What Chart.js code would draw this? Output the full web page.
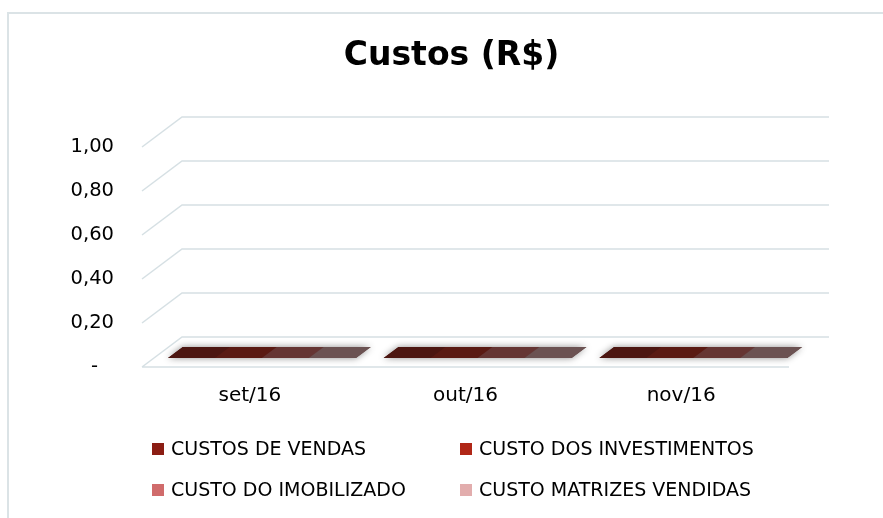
<!DOCTYPE html>
<html>
<head>
<meta charset="utf-8">
<script src="https://cdn.jsdelivr.net/npm/chart.js@4/dist/chart.umd.min.js"></script>
<style>
  html, body { margin: 0; padding: 0; background: #fff; }
</style>
</head>
<body>
<canvas id="custosChart" width="883" height="518"></canvas>
<script>
// dados
const meses = ["set/16", "out/16", "nov/16"];
const nomesSeries = ["CUSTOS DE VENDAS", "CUSTO DOS INVESTIMENTOS", "CUSTO DO IMOBILIZADO", "CUSTO MATRIZES VENDIDAS"];
const custosVendas = [0, 0, 0];
const custoInvestimentos = [0, 0, 0];
const custoImobilizado = [0, 0, 0];
const custoMatrizes = [0, 0, 0];
const yMin = 0;
const yMax = 1;
const yPasso = 0.2;

const colors = {
  grid: "#d6e0e4",
  frame: "#dbe3e6",
  text: "#000000",
  legenda: ["#8b1d13", "#b02717", "#d06b6b", "#e2adad"],
  topo: ["#4c1611", "#5a1a13", "#653533", "#6b5252"],
};

const depth = { dx: 40, dy: -30, f1: 0.3, f2: 0.67 };
const fonte = "'DejaVu Sans', sans-serif";

const serieValores = [custosVendas, custoInvestimentos, custoImobilizado, custoMatrizes];

// grade 3D, piso e barras
const grade3d = {
  id: "grade3d",
  beforeDraw(chart) {
    const ctx = chart.ctx;
    ctx.save();
    ctx.fillStyle = "#fff";
    ctx.fillRect(0, 0, chart.width, chart.height);
    ctx.strokeStyle = colors.frame;
    ctx.lineWidth = 2;
    ctx.beginPath();
    ctx.moveTo(8, chart.height);
    ctx.lineTo(8, 13);
    ctx.lineTo(chart.width, 13);
    ctx.stroke();
    ctx.restore();
  },
  beforeDatasetsDraw(chart) {
    const { ctx, chartArea: a, scales: { y } } = chart;
    ctx.save();
    ctx.strokeStyle = colors.grid;
    ctx.lineWidth = 1.5;
    y.ticks.forEach(t => {
      const py = y.getPixelForValue(t.value);
      ctx.beginPath();
      ctx.moveTo(a.left, py);
      ctx.lineTo(a.left + depth.dx, py + depth.dy);
      ctx.lineTo(a.right + depth.dx, py + depth.dy);
      if (t.value === 0) {
        ctx.moveTo(a.left, py);
        ctx.lineTo(a.right, py);
      }
      ctx.stroke();
    });
    ctx.restore();
  },
  afterDatasetsDraw(chart) {
    const { ctx, scales: { y } } = chart;
    const y0 = y.getPixelForValue(0);
    const n = chart.data.datasets.length;
    const { dx, dy, f1, f2 } = depth;

    meses.forEach((m, i) => {
      const primeiro = chart.getDatasetMeta(0).data[i].getProps(["x", "width"], true);
      const ultimo = chart.getDatasetMeta(n - 1).data[i].getProps(["x", "width"], true);
      const L = primeiro.x - primeiro.width / 2;
      const R = ultimo.x + ultimo.width / 2;

      // sombra do grupo
      ctx.save();
      ctx.shadowColor = "rgba(0,0,0,0.45)";
      ctx.shadowBlur = 7;
      ctx.fillStyle = colors.topo[0];
      ctx.beginPath();
      ctx.moveTo(L + f1 * dx, y0 + f1 * dy);
      ctx.lineTo(R + f1 * dx, y0 + f1 * dy);
      ctx.lineTo(R + f2 * dx, y0 + f2 * dy);
      ctx.lineTo(L + f2 * dx, y0 + f2 * dy);
      ctx.closePath();
      ctx.fill();
      ctx.restore();

      chart.data.datasets.forEach((ds, d) => {
        const el = chart.getDatasetMeta(d).data[i].getProps(["x", "width"], true);
        const l = el.x - el.width / 2;
        const r = el.x + el.width / 2;
        const top = y.getPixelForValue(ds.data[i]);
        ctx.save();
        if (top < y0) {
          ctx.fillStyle = colors.legenda[d];
          ctx.fillRect(l + f1 * dx, top + f1 * dy, r - l, y0 - top);
        }
        ctx.fillStyle = colors.topo[d];
        ctx.beginPath();
        ctx.moveTo(l + f1 * dx, top + f1 * dy);
        ctx.lineTo(r + f1 * dx + 0.5, top + f1 * dy);
        ctx.lineTo(r + f2 * dx + 0.5, top + f2 * dy);
        ctx.lineTo(l + f2 * dx, top + f2 * dy);
        ctx.closePath();
        ctx.fill();
        ctx.restore();
      });
    });
  },
  afterDraw(chart) {
    // legenda em duas colunas
    const ctx = chart.ctx;
    const colX = [152, 460];
    const rowY = [449, 490];
    ctx.save();
    ctx.font = "19px " + fonte;
    ctx.textBaseline = "middle";
    ctx.textAlign = "left";
    chart.data.datasets.forEach((ds, d) => {
      const x = colX[d % 2];
      const yy = rowY[Math.floor(d / 2)];
      ctx.fillStyle = colors.legenda[d];
      ctx.fillRect(x, yy - 6, 12, 12);
      ctx.fillStyle = colors.text;
      ctx.fillText(ds.label, x + 19, yy + 1);
    });
    ctx.restore();
  }
};

const ctx = document.getElementById("custosChart").getContext("2d");
new Chart(ctx, {
  type: "bar",
  data: {
    labels: meses,
    datasets: nomesSeries.map((nome, d) => ({
      label: nome,
      data: serieValores[d],
      backgroundColor: colors.legenda[d],
      borderWidth: 0,
      categoryPercentage: 0.87,
      barPercentage: 1.0,
    })),
  },
  options: {
    responsive: false,
    animation: false,
    layout: { padding: { left: 20, right: 0, top: 0, bottom: 0 } },
    plugins: {
      legend: { display: false },
      tooltip: { enabled: false },
      title: {
        display: true,
        text: "Custos (R$)",
        color: colors.text,
        font: { family: fonte, size: 33, weight: "bold" },
        padding: { top: 37, bottom: 147 - 37 - 33 * 1.2 },
      },
    },
    scales: {
      x: {
        grid: { display: false, drawTicks: false },
        border: { display: false },
        ticks: {
          color: colors.text,
          font: { family: fonte, size: 20 },
          padding: 17,
          maxRotation: 0,
        },
        afterFit(scale) { scale.height = 151; },
      },
      y: {
        min: yMin,
        max: yMax,
        grid: { display: false, drawTicks: false },
        border: { display: false },
        ticks: {
          stepSize: yPasso,
          color: colors.text,
          font: { family: fonte, size: 19.5 },
          padding: 28,
          callback: v => v === 0 ? "-\u2002 " : v.toFixed(2).replace(".", ","),
        },
        afterFit(scale) { scale.width = 122; },
      },
      // eixo vazio à direita só para reservar a profundidade 3D
      yDir: {
        position: "right",
        display: true,
        grid: { display: false, drawTicks: false },
        border: { display: false },
        ticks: { display: false },
        afterFit(scale) { scale.width = 94; },
      },
    },
  },
  plugins: [grade3d],
});
</script>
</body>
</html>
